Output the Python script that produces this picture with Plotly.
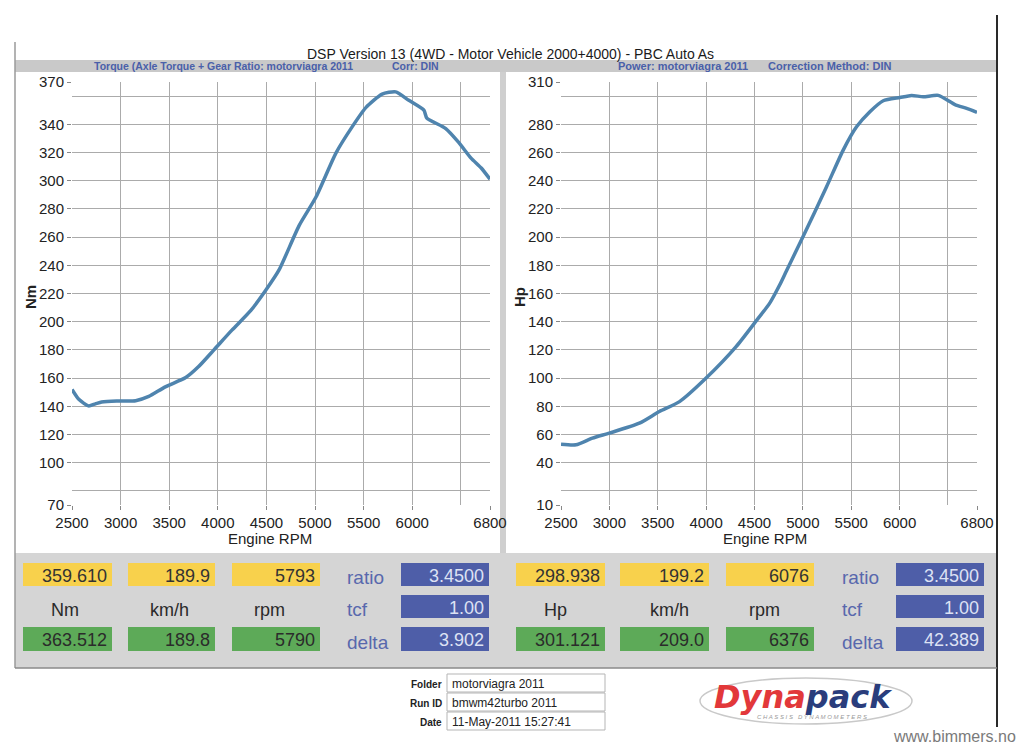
import plotly.graph_objects as go

# ---------------- data ----------------
torque_rpm = [2500, 2570, 2670, 2740, 2805, 2960, 3155, 3290, 3460, 3670, 3800, 3960, 4145,
              4340, 4500, 4630, 4835, 5010, 5215, 5380, 5525, 5690, 5830, 5965, 6120, 6150,
              6345, 6480, 6605, 6710, 6800]
torque_nm = [152, 145, 140.3, 141.7, 143, 143.8, 144, 147, 153.8, 160.4, 168, 180, 194,
             208, 223, 236.7, 268, 288.4, 319.6, 338, 352, 361.4, 363, 357, 350, 344.4,
             337, 327, 316, 309, 301]

power_rpm = [2500, 2655, 2825, 3000, 3310, 3517, 3725, 4000, 4310, 4500, 4656, 4760, 4830,
             5000, 5245, 5417, 5555, 5693, 5831, 6003, 6124, 6244, 6400, 6572, 6693, 6800]
power_hp = [53.1, 52.7, 57.4, 61, 68, 76.3, 83.3, 100, 122.3, 139, 153, 166, 176,
            200, 235.7, 261.7, 278.2, 288.9, 296.7, 299, 300.5, 299.5, 300.5, 294, 291.3, 288.5]

x_ticks = [2500, 3000, 3500, 4000, 4500, 5000, 5500, 6000, 6800]
x_grid = [3000, 3500, 4000, 4500, 5000, 5500, 6000, 6500]
nm_ticks = [70, 100, 120, 140, 160, 180, 200, 220, 240, 260, 280, 300, 320, 340, 370]
nm_grid = [80, 100, 120, 140, 160, 180, 200, 220, 240, 260, 280, 300, 320, 340, 360]
hp_ticks = [10, 40, 60, 80, 100, 120, 140, 160, 180, 200, 220, 240, 260, 280, 310]
hp_grid = [20, 40, 60, 80, 100, 120, 140, 160, 180, 200, 220, 240, 260, 280, 300]

left_yellow = ["359.610", "189.9", "5793"]
left_green = ["363.512", "189.8", "5790"]
left_units = ["Nm", "km/h", "rpm"]
left_blue = ["3.4500", "1.00", "3.902"]
right_yellow = ["298.938", "199.2", "6076"]
right_green = ["301.121", "209.0", "6376"]
right_units = ["Hp", "km/h", "rpm"]
right_blue = ["3.4500", "1.00", "42.389"]
param_labels = ["ratio", "tcf", "delta"]

title_text = "DSP Version 13 (4WD - Motor Vehicle 2000+4000) - PBC Auto As"
footer_labels = ["Folder", "Run ID", "Date"]
footer_values = ["motorviagra 2011", "bmwm42turbo 2011", "11-May-2011 15:27:41"]

# ---------------- helpers ----------------
# the page body has an 8px margin, so the figure is placed at (8, 8) in the window
OFF = 8
W, H = 1024 - OFF, 744 - OFF
FONT = "Liberation Sans, Arial, sans-serif"


def X(px):
    return (px - OFF) / W


def Y(py):
    return 1 - (py - OFF) / H


shapes = []
annotations = []


def rect(x0, y0, x1, y1, fill, line=None, lw=0):
    shapes.append(dict(type="rect", xref="paper", yref="paper",
                       x0=X(x0), x1=X(x1), y0=Y(y1), y1=Y(y0),
                       fillcolor=fill, line=dict(color=line or fill, width=lw),
                       layer="below"))


def vline(x, y0, y1, color, w):
    shapes.append(dict(type="line", xref="paper", yref="paper",
                       x0=X(x), x1=X(x), y0=Y(y1), y1=Y(y0),
                       line=dict(color=color, width=w), layer="below"))


def text(x, y, s, size=14, color="#222", xanchor="center", angle=0, family=FONT):
    annotations.append(dict(xref="paper", yref="paper", x=X(x), y=Y(y), text=s,
                            showarrow=False, xanchor=xanchor, yanchor="middle",
                            textangle=angle,
                            font=dict(size=size, color=color, family=family)))


# ---------------- background panels ----------------
rect(15, 60, 997, 72, "#c9c9c9")          # header bar
rect(17, 72, 500, 553, "#ffffff")         # left chart panel
rect(500, 72, 506, 553, "#cfcfcf")        # separator
rect(506, 72, 995, 553, "#ffffff")        # right chart panel
rect(15, 553, 997, 668, "#d5d5d5")        # data panel
vline(15, 42, 668, "#9a9a9a", 1.5)
vline(997, 15, 727, "#2a2a2a", 2)
shapes.append(dict(type="line", xref="paper", yref="paper", x0=X(15), x1=X(997),
                   y0=Y(668), y1=Y(668), line=dict(color="#8a8a8a", width=1.5), layer="below"))

# ---------------- traces ----------------
fig = go.Figure()
fig.add_trace(go.Scatter(x=torque_rpm, y=torque_nm, mode="lines", xaxis="x", yaxis="y",
                         line=dict(color="#4f84ae", width=3.5, shape="spline", smoothing=0.6),
                         showlegend=False))
fig.add_trace(go.Scatter(x=power_rpm, y=power_hp, mode="lines", xaxis="x2", yaxis="y2",
                         line=dict(color="#4f84ae", width=3.5, shape="spline", smoothing=0.6),
                         showlegend=False))

grid_col = "#ababab"


def xaxis(domain, anchor):
    return dict(domain=domain, anchor=anchor, range=[2500, 6800], tickmode="array",
                tickvals=x_ticks, ticktext=[str(v) for v in x_ticks], showgrid=False,
                zeroline=False, showline=False, ticks="outside", ticklen=4, tickcolor="#888",
                automargin=False,
                tickfont=dict(size=15, color="#222", family=FONT),
                minor=dict(tickmode="array", tickvals=x_grid, showgrid=True,
                           gridcolor=grid_col, gridwidth=1, ticks=""))


def yaxis(domain, anchor, rng, ticks, grid):
    return dict(domain=domain, anchor=anchor, range=rng, tickmode="array",
                tickvals=ticks, ticktext=[str(v) for v in ticks], showgrid=False,
                zeroline=False, showline=False, ticks="outside", ticklen=4, tickcolor="#888",
                automargin=False,
                tickfont=dict(size=15, color="#222", family=FONT),
                minor=dict(tickmode="array", tickvals=grid, showgrid=True,
                           gridcolor=grid_col, gridwidth=1, ticks=""))


ydom = [Y(505), Y(82)]
fig.update_layout(
    width=W, height=H,
    margin=dict(l=0, r=0, t=0, b=0, autoexpand=False),
    paper_bgcolor="#ffffff", plot_bgcolor="rgba(0,0,0,0)",
    xaxis=xaxis([X(72), X(490)], "y"),
    yaxis=yaxis(ydom, "x", [70, 370], nm_ticks, nm_grid),
    xaxis2=xaxis([X(561), X(977)], "y2"),
    yaxis2=yaxis(ydom, "x2", [10, 310], hp_ticks, hp_grid),
)

# ---------------- titles ----------------
text(510, 54, title_text, size=14, color="#1a1a1a")
blue_t = "#4a60aa"
text(92, 66, "<b>Torque (Axle Torque + Gear Ratio: motorviagra 2011</b>", size=10.5,
     color=blue_t, xanchor="left")
text(390, 66, "<b>Corr: DIN</b>", size=10.5, color=blue_t, xanchor="left")
text(616, 66, "<b>Power: motorviagra 2011</b>", size=11, color=blue_t, xanchor="left")
text(766, 66, "<b>Correction Method: DIN</b>", size=11, color=blue_t, xanchor="left")

text(30, 297, "<b>Nm</b>", size=15, color="#222", angle=-90)
text(519, 297, "<b>Hp</b>", size=15, color="#222", angle=-90)
text(270, 538, "Engine RPM", size=15, color="#222")
text(765, 538, "Engine RPM", size=15, color="#222")

# ---------------- data panel ----------------
YEL, GRN, BLU = "#f8d14c", "#5daa58", "#4e5ea8"
row_y = [(563, 586), (595, 618), (627, 651)]
unit_y = 610


def panel(cols, blue_x, unit_x, param_x, yellow, green, units, blue):
    for i, (a, b) in enumerate(cols):
        rect(a, row_y[0][0], b, row_y[0][1], YEL)
        text(b - 3, (row_y[0][0] + row_y[0][1]) / 2 + 1, yellow[i], size=18, color="#333",
             xanchor="right")
        rect(a, row_y[2][0], b, row_y[2][1], GRN)
        text(b - 3, (row_y[2][0] + row_y[2][1]) / 2 + 1, green[i], size=18, color="#2b2b2b",
             xanchor="right")
        text(unit_x[i], unit_y, units[i], size=18, color="#2a2a2a")
    for j in range(3):
        rect(blue_x[0], row_y[j][0], blue_x[1], row_y[j][1], BLU)
        text(blue_x[1] - 3, (row_y[j][0] + row_y[j][1]) / 2 + 1, blue[j], size=18,
             color="#dde2f4", xanchor="right")
        text(param_x, (row_y[j][0] + row_y[j][1]) / 2 + 3, param_labels[j], size=19,
             color="#5868ad", xanchor="left")


panel([(23, 112), (128, 215), (232, 320)], (401, 489), [65, 169, 269], 345,
      left_yellow, left_green, left_units, left_blue)
panel([(516, 605), (620, 709), (726, 814)], (896, 984), [555, 669, 764], 840,
      right_yellow, right_green, right_units, right_blue)

# ---------------- footer ----------------
fy = [(674, 692), (693, 711), (712, 730)]
for (a, b), lab, val in zip(fy, footer_labels, footer_values):
    rect(447, a, 605, b, "#ffffff", line="#b5b5b5", lw=1)
    text(444, (a + b) / 2 + 1, "<b>" + lab + "</b>", size=10, color="#222", xanchor="right")
    text(450, (a + b) / 2 + 1, val, size=12, color="#222", xanchor="left")

# Dynapack logo
shapes.append(dict(type="circle", xref="paper", yref="paper",
                   x0=X(700), x1=X(912), y0=Y(724), y1=Y(678),
                   line=dict(color="#c9c9c9", width=1.5), layer="below"))
text(803, 697, '<b><i><span style="color:#e2383a">Dyna</span>'
               '<span style="color:#2a3d7c">pack</span></i></b>',
     size=32, color="#2a3d7c", family="DejaVu Sans, sans-serif")
text(812, 717, "<i>C H A S S I S   D Y N A M O M E T E R S</i>", size=6, color="#9a9a9a")

text(1018, 736, "www.bimmers.no", size=16, color="#7a7a7a", xanchor="right")

fig.update_layout(shapes=shapes, annotations=annotations)
fig.write_html("out.html")
